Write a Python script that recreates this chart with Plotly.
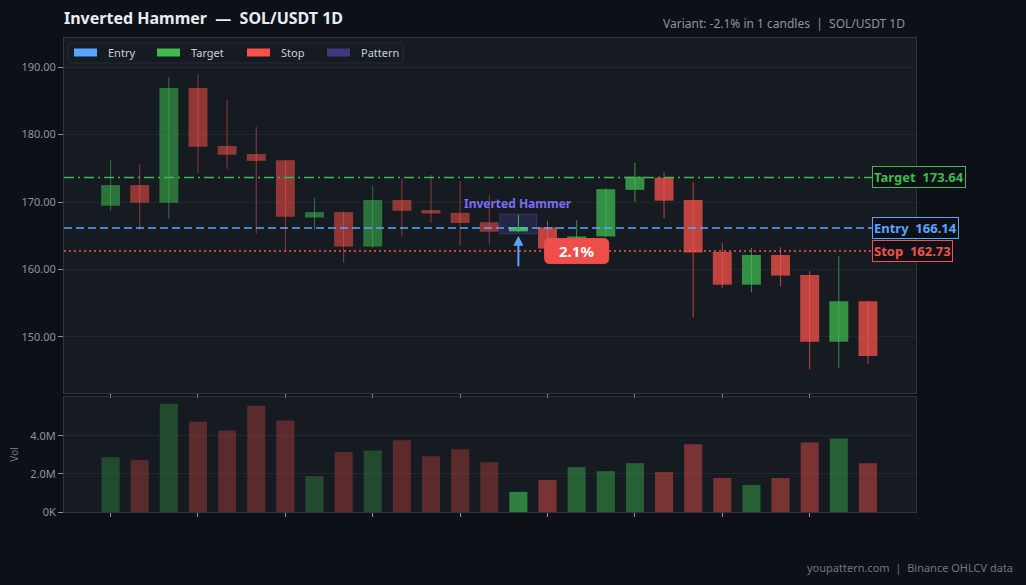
import plotly.graph_objects as go

# ---------------- data ----------------
candle_idx = list(range(27))
opens = [169.45, 172.5, 169.9, 186.9, 178.3, 177.1, 176.2, 167.7, 168.5, 163.4,
         170.3, 168.8, 168.4, 167.0, 165.65, 166.25, 163.1, 164.9, 171.8, 173.6,
         170.3, 162.6, 157.75, 162.15, 159.2, 149.3, 155.3]
closes = [172.5, 169.9, 186.9, 178.2, 177.0, 176.1, 167.8, 168.5, 163.4, 170.3,
          168.7, 168.3, 166.9, 165.6, 166.3, 163.1, 164.9, 171.9, 173.75, 170.2,
          162.5, 157.75, 162.15, 159.1, 149.3, 155.3, 147.2]
highs = [176.2, 175.6, 188.5, 189.0, 185.1, 181.1, 176.2, 170.6, 168.6, 172.4,
         173.4, 174.0, 173.1, 171.0, 168.1, 167.2, 167.3, 172.0, 175.8, 174.4,
         173.0, 163.9, 163.2, 163.3, 159.8, 162.0, 155.4]
lows = [168.7, 165.85, 167.5, 174.3, 174.9, 165.3, 162.6, 165.9, 161.0, 163.2,
        164.9, 166.9, 163.5, 163.7, 165.5, 162.8, 162.9, 164.8, 170.0, 167.6,
        152.9, 157.3, 156.6, 157.5, 145.2, 145.45, 146.0]
volumes = [2.88e6, 2.72e6, 5.69e6, 4.75e6, 4.29e6, 5.59e6, 4.81e6, 1.89e6, 3.14e6, 3.24e6,
           3.77e6, 2.93e6, 3.30e6, 2.62e6, 1.06e6, 1.68e6, 2.36e6, 2.15e6, 2.57e6, 2.10e6,
           3.56e6, 1.79e6, 1.42e6, 1.79e6, 3.66e6, 3.87e6, 2.57e6]

pattern_index = 14
entry_price = 166.14
target_price = 173.64
stop_price = 162.73
move_text = "2.1%"
x_tick_vals = [0, 3, 6, 9, 12, 15, 18, 21, 24]
price_ticks = [150, 160, 170, 180, 190]
vol_tick_vals = [0, 2e6, 4e6]
vol_tick_text = ["0K", "2.0M", "4.0M"]

legend_names = ["Entry", "Target", "Stop", "Pattern"]
legend_colors = ["#58a6ff", "#3fb950", "#f85149", "#3d3a80"]

title_text = "Inverted Hammer  \u2014  SOL/USDT 1D"
subtitle_text = "Variant: -2.1% in 1 candles  |  SOL/USDT 1D"
footer_text = "youpattern.com  |  Binance OHLCV data"

# ---------------- styles ----------------
PAPER = "#0d1117"
PLOT = "#161b22"
GRID = "#21262d"
AXIS = "#30363d"
TICKC = "#8b949e"
GREEN = (63, 185, 80)
RED = (248, 81, 73)
BLUE = "#58a6ff"
PURPLE_TXT = "#7c6ef2"

W, H = 1026, 585
ML, MR, MT, MB = 64, 110, 38, 73
PW, PH = W - ML - MR, H - MT - MB


def px_x(px):
    return (px - ML) / PW


def px_y(py):
    return (H - MB - py) / PH


def rgba(c, a):
    return f"rgba({c[0]},{c[1]},{c[2]},{a})"


def rounded_rect(w, h, r):
    x0, x1, y0, y1 = -w / 2, w / 2, -h / 2, h / 2
    return (f"M{x0 + r},{y0} L{x1 - r},{y0} Q{x1},{y0} {x1},{y0 + r} "
            f"L{x1},{y1 - r} Q{x1},{y1} {x1 - r},{y1} L{x0 + r},{y1} "
            f"Q{x0},{y1} {x0},{y1 - r} L{x0},{y0 + r} Q{x0},{y0} {x0 + r},{y0} Z")


fig = go.Figure()

groups = {
    "pre": ([i for i in candle_idx if i < pattern_index], 0.55, 0.30),
    "pat": ([pattern_index], 1.0, 0.65),
    "post": ([i for i in candle_idx if i > pattern_index], 0.75, 0.44),
}

for gname, (members, c_alpha, v_alpha) in groups.items():
    for up in (True, False):
        sel = [i for i in members if (closes[i] >= opens[i]) == up]
        if not sel:
            continue
        base_col = GREEN if up else RED
        col = rgba(base_col, c_alpha)
        wx, wy = [], []
        for i in sel:
            wx += [i, i, None]
            wy += [lows[i], highs[i], None]
        fig.add_trace(go.Scatter(x=wx, y=wy, mode="lines", line=dict(color=col, width=1),
                                 showlegend=False, hoverinfo="skip", xaxis="x", yaxis="y"))
        fig.add_trace(go.Bar(x=sel, y=[max(abs(closes[i] - opens[i]), 0.08) for i in sel],
                             base=[min(opens[i], closes[i]) for i in sel],
                             width=0.65, marker=dict(color=col, line=dict(width=0)),
                             showlegend=False, hoverinfo="skip", xaxis="x", yaxis="y"))
        fig.add_trace(go.Bar(x=sel, y=[volumes[i] for i in sel], width=0.62,
                             marker=dict(color=rgba(base_col, v_alpha), line=dict(width=0)),
                             showlegend=False, hoverinfo="skip", xaxis="x2", yaxis="y2"))

shapes = []
annotations = []

# level lines
for price, col, dash in [(target_price, "#3fb950", "10px,4px,2px,4px"),
                         (entry_price, BLUE, "8px,4px"),
                         (stop_price, "#f85149", "2px,3px")]:
    shapes.append(dict(type="line", xref="x domain", yref="y", x0=0, x1=1, y0=price, y1=price,
                       line=dict(color=col, width=1.5, dash=dash)))
# pattern box
shapes.append(dict(type="rect", xref="x", yref="y", layer="below",
                   x0=pattern_index - 0.63, x1=pattern_index + 0.63,
                   y0=lows[pattern_index] - 0.2, y1=highs[pattern_index] + 0.1,
                   fillcolor="rgba(99,88,220,0.18)", line=dict(color="rgba(99,88,220,0.35)", width=1)))

# custom legend box (layout)
shapes.append(dict(type="path", xref="paper", yref="paper", xsizemode="pixel", ysizemode="pixel",
                   xanchor=px_x(235.5), yanchor=px_y(53), path=rounded_rect(335, 20, 3),
                   fillcolor="#161b22", line=dict(color="#262b33", width=1)))
legend_sym_x = [74, 157, 247, 327]
for name, col, sx in zip(legend_names, legend_colors, legend_sym_x):
    shapes.append(dict(type="rect", xref="paper", yref="paper",
                       x0=px_x(sx), x1=px_x(sx + 23), y0=px_y(56.5), y1=px_y(48.5),
                       fillcolor=col, line=dict(width=0)))
    annotations.append(dict(xref="paper", yref="paper", x=px_x(sx + 32), y=px_y(53),
                            xanchor="left", yanchor="middle", text=name, showarrow=False,
                            font=dict(size=11, color="#c9d1d9", family="Noto Sans")))

# move label rounded box
shapes.append(dict(type="path", xref="x", yref="y", xsizemode="pixel", ysizemode="pixel",
                   xanchor=pattern_index + 2, yanchor=stop_price, path=rounded_rect(64, 25, 5),
                   fillcolor="#ee4f4a", line=dict(color="#ee4f4a", width=1)))

for label, price, col in [("Target", target_price, "#3fb950"),
                          ("Entry", entry_price, BLUE),
                          ("Stop", stop_price, "#f85149")]:
    annotations.append(dict(xref="paper", yref="y", x=0.948, y=price, xanchor="left", yanchor="middle",
                            text=f"<b>{label}\u00a0\u00a0{price:.2f}</b>", showarrow=False,
                            font=dict(size=13, color=col, family="Noto Sans"),
                            bgcolor=PAPER, bordercolor=col, borderwidth=1, borderpad=1))
annotations.append(dict(xref="x", yref="y", x=pattern_index, y=highs[pattern_index], yshift=1,
                        xanchor="center", yanchor="bottom", showarrow=False,
                        text="<b>Inverted Hammer</b>", font=dict(size=12, color=PURPLE_TXT, family="Noto Sans")))
annotations.append(dict(xref="x", yref="y", x=pattern_index, y=lows[pattern_index] - 0.5,
                        ax=0, ay=32, text="", showarrow=True, arrowhead=2, arrowsize=1,
                        arrowwidth=2, arrowcolor=BLUE))
annotations.append(dict(xref="x", yref="y", x=pattern_index + 2, y=stop_price,
                        text=f"<b>{move_text}</b>", showarrow=False,
                        font=dict(size=15, color="#ffffff", family="Noto Sans")))
annotations.append(dict(xref="paper", yref="paper", x=px_x(907), y=px_y(23), xanchor="right", yanchor="middle",
                        text=subtitle_text.replace("  ", "\u00a0\u00a0"), showarrow=False,
                        font=dict(size=12, color=TICKC, family="Noto Sans")))
annotations.append(dict(xref="paper", yref="paper", x=px_x(1015), y=px_y(567), xanchor="right", yanchor="middle",
                        text=footer_text.replace("  ", "\u00a0\u00a0"), showarrow=False,
                        font=dict(size=11, color="#6e7681", family="Noto Sans")))
annotations.append(dict(xref="paper", yref="paper", x=px_x(14), y=0.121, xanchor="center", yanchor="middle",
                        text="Vol", textangle=-90, showarrow=False,
                        font=dict(size=10, color="#6e7681", family="Noto Sans")))

xaxis_common = dict(range=[-1.6, 27.65], tickvals=x_tick_vals, showticklabels=False,
                    ticks="outside", ticklen=4, tickcolor=TICKC, tickwidth=1,
                    showgrid=False, zeroline=False, showline=True, linecolor=AXIS, mirror=True)

fig.update_layout(
    width=W, height=H, autosize=False,
    paper_bgcolor=PAPER, plot_bgcolor=PLOT,
    margin=dict(l=ML, r=MR, t=MT, b=MB),
    barmode="overlay", hovermode=False,
    font=dict(family="Noto Sans", color=TICKC),
    title=dict(text=f"<b>{title_text.replace('  ', chr(160) * 2)}</b>", x=ML / W, xanchor="left",
               y=1 - 18 / H, yanchor="middle", font=dict(size=16, color="#e6edf3", family="Noto Sans")),
    showlegend=False,
    xaxis=dict(domain=[0, 1], anchor="y", **xaxis_common),
    xaxis2=dict(domain=[0, 1], anchor="y2", matches="x", **xaxis_common),
    yaxis=dict(domain=[px_y(393), 1], range=[141.7, 194.3], tickvals=price_ticks, tickformat=".2f",
               ticks="outside", ticklen=5, tickcolor=TICKC, tickfont=dict(size=11, color=TICKC),
               gridcolor=GRID, zeroline=False, showline=True, linecolor=AXIS, mirror=True),
    yaxis2=dict(domain=[0, px_y(397)], range=[0, 6.05e6], tickvals=vol_tick_vals, ticktext=vol_tick_text,
                ticks="outside", ticklen=5, tickcolor=TICKC, tickfont=dict(size=11, color=TICKC),
                gridcolor=GRID, zeroline=False, showline=True, linecolor=AXIS, mirror=True),
    shapes=shapes, annotations=annotations,
)

fig.write_html("out.html")
